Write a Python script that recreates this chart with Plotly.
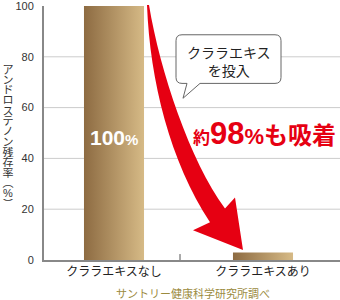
import plotly.graph_objects as go

# ---- data ----
CATEGORIES = ["クララエキスなし", "クララエキスあり"]
VALUES = [100, 3]
Y_TICKS = [0, 20, 40, 60, 80, 100]
GRID_VALUES = [20, 40, 60, 80]
Y_TITLE = "アンドロステノン残存率︵%︶"
BAR_LABEL = "100"
CALLOUT = "クララエキス<br>を投入"
SOURCE = "サントリー健康科学研究所調べ"

# ---- layout geometry (pixels) ----
W, H = 340, 300
L, R, T, B = 44, 0, 4, 40
PW, PH = W - L - R, H - T - B
BAR_W = 0.403
X_RANGE = [-0.4698, 1.5168]

JP = "Liberation Sans, Noto Sans CJK JP, sans-serif"


def px(x):
    return (x - L) / PW


def py(y):
    return (H - B - y) / PH


def path(cmds):
    out = []
    for c in cmds:
        if isinstance(c, str):
            out.append(c)
        else:
            out.append(f"{px(c[0]):.5f},{py(c[1]):.5f}")
    return " ".join(out)


fig = go.Figure()

# bars with horizontal gradient
for i, v in enumerate(VALUES):
    x0, x1 = i - BAR_W / 2, i + BAR_W / 2
    fig.add_trace(go.Scatter(
        x=[x0, x0, x1, x1, x0], y=[0, v, v, 0, 0],
        mode="lines", fill="toself", line=dict(width=0),
        fillgradient=dict(type="horizontal",
                          colorscale=[[0, "#8d6b42"], [1, "#d6ba86"]],
                          start=x0, stop=x1),
        hoverinfo="skip", showlegend=False))

shapes = []
# gridlines
for g in GRID_VALUES:
    shapes.append(dict(type="line", xref="paper", yref="y", x0=0, x1=1, y0=g, y1=g,
                       line=dict(color="#cccccc", width=1), layer="below"))
# divider tick between categories
shapes.append(dict(type="line", xref="x", yref="paper", x0=0.443, x1=0.443,
                   y0=0, y1=6 / PH, line=dict(color="#555555", width=1)))

# curved red arrow
arrow = path(["M", (147, 3), "C", (150, 80), (170, 160), (210, 222),
              "L", (193, 230), "L", (243, 250), "L", (235, 197), "L", (225, 208),
              "C", (190, 160), (160, 70), (149, 3), "Z"])
shapes.append(dict(type="path", xref="paper", yref="paper", path=arrow,
                   fillcolor="#e60012", line=dict(width=0), layer="above"))

# speech bubble
bubble = path(["M", (182, 33), "L", (275, 33), "Q", (281, 33), (281, 39),
               "L", (281, 76), "Q", (281, 82), (275, 82),
               "L", (200, 82), "L", (183, 97), "L", (187, 82), "L", (182, 82),
               "Q", (176, 82), (176, 76), "L", (176, 39), "Q", (176, 33), (182, 33), "Z"])
shapes.append(dict(type="path", xref="paper", yref="paper", path=bubble,
                   fillcolor="white", line=dict(color="#666666", width=1), layer="above"))

annotations = []
# vertical y-axis title: one upright character per box, tight pitch
for k, ch in enumerate(Y_TITLE):
    annotations.append(dict(
        text=ch, xref="paper", yref="paper", x=px(8), y=py(68 + k * 10.4),
        showarrow=False, xanchor="center", yanchor="middle",
        height=10, width=12, borderpad=0,
        font=dict(family=JP, size=11, color="#333333")))

# 100% label
annotations.append(dict(
    text=f"<b>{BAR_LABEL}<span style='font-size:15px'>%</span></b>",
    xref="x", yref="paper", x=0, y=py(137), showarrow=False,
    xanchor="center", yanchor="middle",
    font=dict(family=JP, size=21, color="white")))

# callout text
annotations.append(dict(
    text=CALLOUT, xref="paper", yref="paper", x=px(228.5), y=py(60),
    showarrow=False, xanchor="center", yanchor="middle",
    font=dict(family=JP, size=14, color="#222222")))

# red headline
annotations.append(dict(
    text=("<b><span style='font-size:17px'>約</span>"
          "<span style='font-size:31px'>98</span>"
          "<span style='font-size:22px'>%</span>"
          "<span style='font-size:24px'>も吸着</span></b>"),
    xref="paper", yref="paper", x=px(191), y=py(133), showarrow=False,
    xanchor="left", yanchor="middle",
    font=dict(family=JP, size=24, color="#e60012")))

# source note
annotations.append(dict(
    text=SOURCE, xref="paper", yref="paper", x=px(193), y=py(294),
    showarrow=False, xanchor="center", yanchor="middle",
    font=dict(family=JP, size=11, color="#9b8b3f")))

fig.update_layout(
    width=W, height=H, margin=dict(l=L, r=R, t=T, b=B),
    paper_bgcolor="white", plot_bgcolor="white",
    shapes=shapes, annotations=annotations, showlegend=False,
    xaxis=dict(range=X_RANGE, tickvals=list(range(len(CATEGORIES))),
               ticktext=CATEGORIES, showgrid=False, zeroline=False,
               showline=True, linecolor="#888888", linewidth=1.5, ticks="",
               tickfont=dict(family=JP, size=12, color="#222222"), fixedrange=True),
    yaxis=dict(range=[0, 100], tickvals=Y_TICKS, showgrid=False, zeroline=False,
               showline=True, linecolor="#888888", linewidth=2, ticks="",
               ticklabelstandoff=6, ticklabeloverflow="allow",
               tickfont=dict(family=JP, size=11, color="#333333"), fixedrange=True),
)

fig.write_html("out.html", config={"displayModeBar": False})
